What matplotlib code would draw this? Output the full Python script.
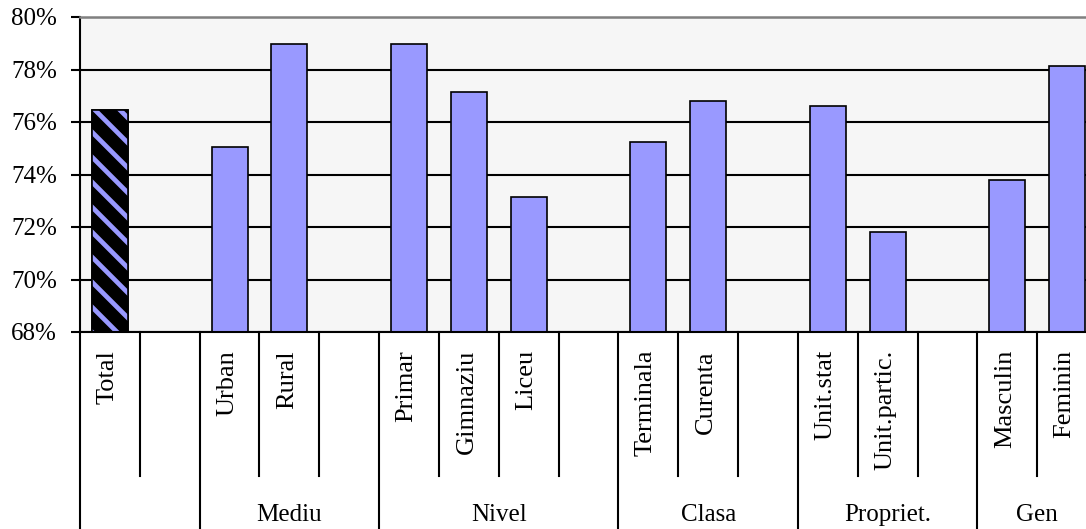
import numpy as np
import matplotlib
matplotlib.use("Agg")
import matplotlib.pyplot as plt

# slots along the x axis, blanks are the gaps between groups
labels = ["Total", "", "Urban", "Rural", "", "Primar", "Gimnaziu", "Liceu", "",
          "Terminala", "Curenta", "", "Unit.stat", "Unit.partic.", "",
          "Masculin", "Feminin"]
values = [76.46, np.nan, 75.05, 78.97, np.nan, 78.98, 77.15, 73.15, np.nan,
          75.25, 76.8, np.nan, 76.62, 71.8, np.nan, 73.8, 78.15]
groups = ["", "Mediu", "Nivel", "Clasa", "Propriet.", "Gen"]
group_sizes = [2, 3, 4, 3, 3, 2]
yticks = [68, 70, 72, 74, 76, 78, 80]

plt.rcParams["font.family"] = ["Liberation Serif", "DejaVu Serif"]

W, H = 1086, 529
fig = plt.figure(figsize=(W / 100, H / 100), dpi=100)
fig.patch.set_facecolor("white")
left, right, top, bottom = 80, 1097, 17, 332
ax = fig.add_axes([left / W, 1 - bottom / H, (right - left) / W, (bottom - top) / H])
ax.set_facecolor("#F6F6F6")

x = np.arange(len(labels))
vals = np.array(values)
blue = "#9999FF"

ax.bar(x[1:], vals[1:] - 68, bottom=68, width=0.6, color=blue,
       edgecolor="black", linewidth=1.2, zorder=3)

# Total bar: black with blue diagonal stripes
tot = ax.bar(x[:1], vals[:1] - 68, bottom=68, width=0.6, color="black",
             edgecolor="black", linewidth=1.2, zorder=3)[0]

ax.set_xlim(-0.5, len(labels) - 0.5)
ax.set_ylim(68, 80)

bb = tot.get_window_extent()
step = 25
for c in np.arange(bb.x0 + bb.y0 - step, bb.x1 + bb.y1 + step, step):
    # line y = -x + c in pixels
    ln, = ax.plot([bb.x0 - 5, bb.x1 + 5], [c - bb.x0 + 5, c - bb.x1 - 5],
                  color=blue, lw=3.4, transform=None, zorder=3.5,
                  solid_capstyle="butt")
    ln.set_clip_path(tot)
ax.bar(x[:1], vals[:1] - 68, bottom=68, width=0.6, fill=False,
       edgecolor="black", linewidth=1.2, zorder=4)

ax.set_yticks(yticks)
ax.set_yticklabels([f"{t}%" for t in yticks], fontsize=18)
ax.tick_params(axis="y", direction="out", length=6.5, width=1.5, pad=10)
ax.set_xticks([])
ax.yaxis.grid(True, color="black", linewidth=1.5, zorder=1)
ax.set_axisbelow(True)

for s in ["left", "bottom"]:
    ax.spines[s].set_linewidth(1.5)
    ax.spines[s].set_color("black")
ax.spines["top"].set_color("#808080")
ax.spines["top"].set_linewidth(1.8)
ax.spines["right"].set_visible(False)
ax.spines["bottom"].set_zorder(5)

trans = ax.get_xaxis_transform()
short_end = -(476 - bottom) / (bottom - top)
full_end = -(H + 10 - bottom) / (bottom - top)

# group boundaries
bounds = np.cumsum([0] + group_sizes) - 0.5
for b in bounds:
    ax.plot([b, b], [0, full_end], color="black", lw=1.5, transform=trans,
            clip_on=False)
for k in range(len(labels)):
    b = k + 0.5
    if b not in bounds:
        ax.plot([b, b], [0, short_end], color="black", lw=1.5, transform=trans,
                clip_on=False)

# category labels
lab_y = -(350 - bottom) / (bottom - top)
for xi, lab in zip(x, labels):
    if lab:
        ax.text(xi - 0.04, lab_y, lab, rotation=90, ha="center", va="top",
                fontsize=19, transform=trans)

# group labels
grp_y = -(515 - bottom) / (bottom - top)
for g, lo, hi in zip(groups, bounds[:-1], bounds[1:]):
    if g:
        ax.text((lo + hi) / 2, grp_y, g, ha="center", va="center",
                fontsize=18, transform=trans)

fig.savefig("out.png", dpi=100)
